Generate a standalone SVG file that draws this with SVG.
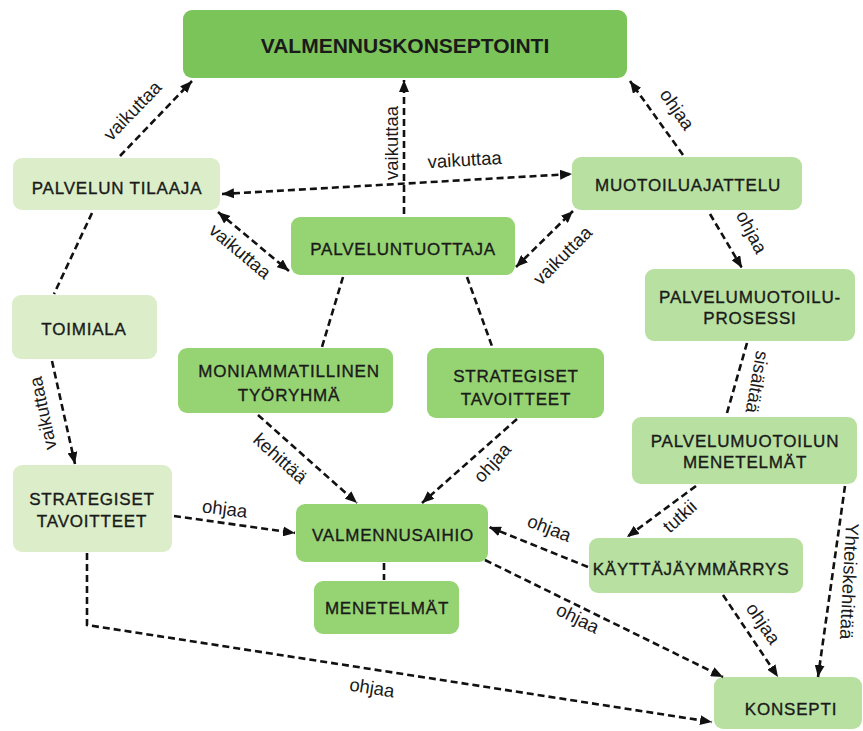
<svg xmlns="http://www.w3.org/2000/svg" width="863" height="731" viewBox="0 0 863 731">
<style>
.n rect{rx:9;ry:9}
.c1{fill:#dbeec9}
.c2{fill:#b8e1a1}
.c3{fill:#96d473}
.c4{fill:#7bc45a}
.t{font-family:"Liberation Sans",Arial,sans-serif;font-size:17px;letter-spacing:0.8px;fill:#1a1a1a;stroke:#1a1a1a;stroke-width:0.35;text-anchor:middle}
.tb{font-family:"Liberation Sans",Arial,sans-serif;font-size:21px;font-weight:bold;fill:#1a1a1a;text-anchor:middle}
.l{font-family:"Liberation Sans",Arial,sans-serif;font-size:18.5px;fill:#1a1a1a;text-anchor:middle}
.e{fill:none;stroke:#111;stroke-width:2.6;stroke-dasharray:7 4}
.a{marker-end:url(#ah)}
.b{marker-end:url(#ah);marker-start:url(#ah)}
</style>
<defs>
<marker id="ah" markerUnits="userSpaceOnUse" viewBox="0 0 12 10" refX="12" refY="5" markerWidth="12" markerHeight="10" orient="auto-start-reverse">
<path d="M0,0 L12,5 L0,10 z" fill="#111"/>
</marker>
</defs>
<rect width="863" height="731" fill="#fff"/>

<g id="nodes">
<g id="n-valmennuskonseptointi" class="n"><rect class="c4" x="183" y="10" width="444" height="68"/><text class="tb" x="405" y="53">VALMENNUSKONSEPTOINTI</text></g>
<g id="n-palvelun-tilaaja" class="n"><rect class="c1" x="13" y="158" width="207" height="52"/><text class="t" x="117" y="194">PALVELUN TILAAJA</text></g>
<g id="n-muotoiluajattelu" class="n"><rect class="c2" x="572" y="157" width="230" height="53"/><text class="t" x="688" y="191">MUOTOILUAJATTELU</text></g>
<g id="n-palveluntuottaja" class="n"><rect class="c3" x="291" y="217" width="224" height="58"/><text class="t" x="403" y="255">PALVELUNTUOTTAJA</text></g>
<g id="n-toimiala" class="n"><rect class="c1" x="12" y="295" width="145" height="64"/><text class="t" x="84" y="335">TOIMIALA</text></g>
<g id="n-moniammatillinen" class="n"><rect class="c3" x="178" y="348" width="215" height="65"/><text class="t" x="289" y="377">MONIAMMATILLINEN</text><text class="t" x="289" y="401">TYÖRYHMÄ</text></g>
<g id="n-strategiset-keski" class="n"><rect class="c3" x="427" y="348" width="177" height="70"/><text class="t" x="516" y="382">STRATEGISET</text><text class="t" x="516" y="405">TAVOITTEET</text></g>
<g id="n-palvelumuotoiluprosessi" class="n"><rect class="c2" x="645" y="269" width="210" height="72"/><text class="t" x="750" y="303">PALVELUMUOTOILU-</text><text class="t" x="750" y="324">PROSESSI</text></g>
<g id="n-palvelumuotoilun-menetelmat" class="n"><rect class="c2" x="632" y="417" width="225" height="67"/><text class="t" x="745" y="447">PALVELUMUOTOILUN</text><text class="t" x="745" y="468">MENETELMÄT</text></g>
<g id="n-strategiset-vasen" class="n"><rect class="c1" x="13" y="465" width="159" height="87"/><text class="t" x="92" y="505">STRATEGISET</text><text class="t" x="92" y="527">TAVOITTEET</text></g>
<g id="n-valmennusaihio" class="n"><rect class="c3" x="296" y="504" width="192" height="58"/><text class="t" x="393" y="541">VALMENNUSAIHIO</text></g>
<g id="n-menetelmat" class="n"><rect class="c3" x="314" y="581" width="145" height="53"/><text class="t" x="387" y="614">MENETELMÄT</text></g>
<g id="n-kayttajaymmarrys" class="n"><rect class="c2" x="589" y="538" width="214" height="55"/><text class="t" x="691" y="575">KÄYTTÄJÄYMMÄRRYS</text></g>
<g id="n-konsepti" class="n"><rect class="c2" x="714" y="677" width="148" height="52"/><text class="t" x="791" y="715">KONSEPTI</text></g>
</g>

<g id="connectors">
<path class="e a" d="M120,156 L192,81"/>
<path class="e a" d="M404,214 L404,80"/>
<path class="e a" d="M683,155 L630,81"/>
<path class="e b" d="M222,194 L572,174"/>
<path class="e b" d="M218,212 L289,271"/>
<path class="e b" d="M516,267 L573,211"/>
<path class="e" d="M92,213 L54,294"/>
<path class="e a" d="M52,361 L75,464"/>
<path class="e" d="M343,277 L322,347"/>
<path class="e" d="M467,277 L493,349"/>
<path class="e a" d="M258,415 L357,503"/>
<path class="e a" d="M517,419 L422,503"/>
<path class="e a" d="M174,516 L295,533"/>
<path class="e a" d="M87,553 L87,625 L712,722"/>
<path class="e" d="M384,563 L384,580"/>
<path class="e a" d="M588,567 L489,527"/>
<path class="e a" d="M485,560 L723,677"/>
<path class="e a" d="M696,486 L627,537"/>
<path class="e a" d="M845,486 L818,677"/>
<path class="e a" d="M723,595 L778,677"/>
<path class="e a" d="M710,214 L742,268"/>
<path class="e" d="M747,343 L727,413"/>

<text class="l" transform="translate(137,115) rotate(-46)">vaikuttaa</text>
<text class="l" transform="translate(398,143) rotate(-90)">vaikuttaa</text>
<text class="l" transform="translate(672,113) rotate(55)">ohjaa</text>
<text class="l" transform="translate(465,166) rotate(-3.4)">vaikuttaa</text>
<text class="l" transform="translate(236,256) rotate(40)">vaikuttaa</text>
<text class="l" transform="translate(567,260) rotate(-45)">vaikuttaa</text>
<text class="l" transform="translate(49,412) rotate(-102)">vaikuttaa</text>
<text class="l" transform="translate(276,463) rotate(42)">kehittää</text>
<text class="l" transform="translate(497,467) rotate(-48)">ohjaa</text>
<text class="l" transform="translate(224,515) rotate(7)">ohjaa</text>
<text class="l" transform="translate(371,694) rotate(8.8)">ohjaa</text>
<text class="l" transform="translate(547,534) rotate(21)">ohjaa</text>
<text class="l" transform="translate(575,624) rotate(26)">ohjaa</text>
<text class="l" transform="translate(684,521) rotate(-42)">tutkii</text>
<text class="l" transform="translate(843,581) rotate(93)">Yhteiskehittää</text>
<text class="l" transform="translate(758,627) rotate(56)">ohjaa</text>
<text class="l" transform="translate(746,235) rotate(62)">ohjaa</text>
<text class="l" transform="translate(751,381) rotate(100)">sisältää</text>
</g>
</svg>
